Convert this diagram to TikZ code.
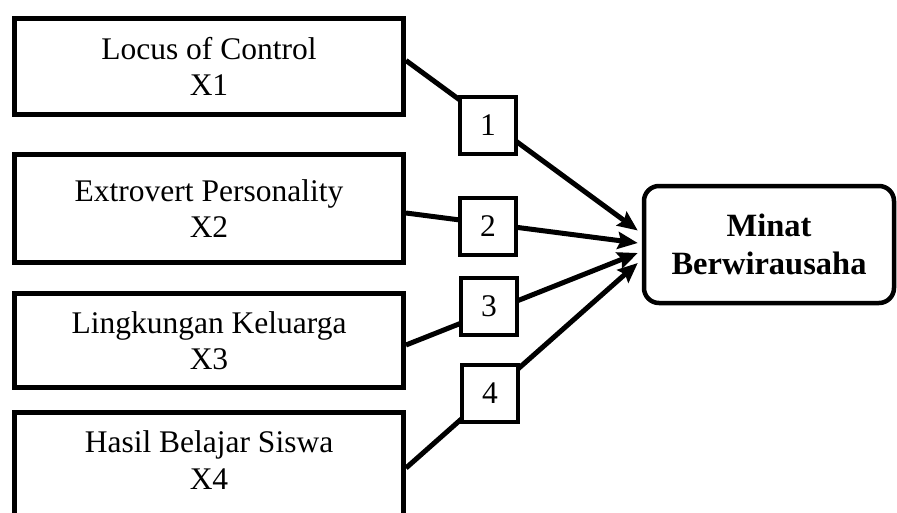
\documentclass[tikz,border=0pt]{standalone}
\usepackage{fontspec}
\setmainfont{Liberation Serif}
\usetikzlibrary{arrows.meta,positioning}

\tikzset{
  varbox/.style={draw,line width=5pt,minimum width=389pt,inner sep=0pt,align=center,
    font=\fontsize{31.5}{36.5}\selectfont},
  numbox/.style={draw,fill=white,line width=4pt,minimum width=56pt,minimum height=57pt,
    inner sep=0pt,font=\fontsize{31.5}{36}\selectfont},
  goalbox/.style={draw,rounded corners=15pt,line width=4.5pt,minimum width=250pt,
    minimum height=117pt,inner sep=0pt,align=center,font=\bfseries\fontsize{32.5}{38}\selectfont}
}

\begin{document}
\begin{tikzpicture}[x=1pt,y=-1pt,line width=5pt,>={Stealth[length=20pt,width=17pt,inset=3pt]}]

  \useasboundingbox (0,0) rectangle (897,512);
  \clip (0,0) rectangle (897,512);

  \node[varbox,minimum height=96pt] (x1) at (209,66.5) {Locus of Control\\X1};
  \node[varbox,minimum height=108pt] (x2) at (209,208.5) {Extrovert Personality\\X2};
  \node[varbox,minimum height=94pt] (x3) at (209,340.5) {Lingkungan Keluarga\\X3};
  \node[varbox,minimum height=120pt,text depth=24pt] (x4) at (209,472) {Hasil Belajar Siswa\\X4};

  \node[goalbox] (m) at (769,244.5) {Minat\\Berwirausaha};

  \coordinate (t1) at ([xshift=-4pt,yshift=14pt]m.west);
  \coordinate (t2) at ([xshift=-4pt,yshift=1.5pt]m.west);
  \coordinate (t3) at ([xshift=-4pt,yshift=-8.5pt]m.west);
  \coordinate (t4) at ([xshift=-4pt,yshift=-18.5pt]m.west);

  \path[->]
    ([yshift=6pt]x1.east) edge (t1)
    ([yshift=-4.5pt]x2.east) edge (t2)
    ([yshift=-4.5pt]x3.east) edge (t3)
    ([yshift=4pt]x4.east) edge (t4);

  \node[numbox] (n1) at (488,125.5) {1};
  \node[numbox] (n2) at (488,226.5) {2};
  \node[numbox] (n3) at (489,306.5) {3};
  \node[numbox] (n4) at (490,393.5) {4};

\end{tikzpicture}
\end{document}
